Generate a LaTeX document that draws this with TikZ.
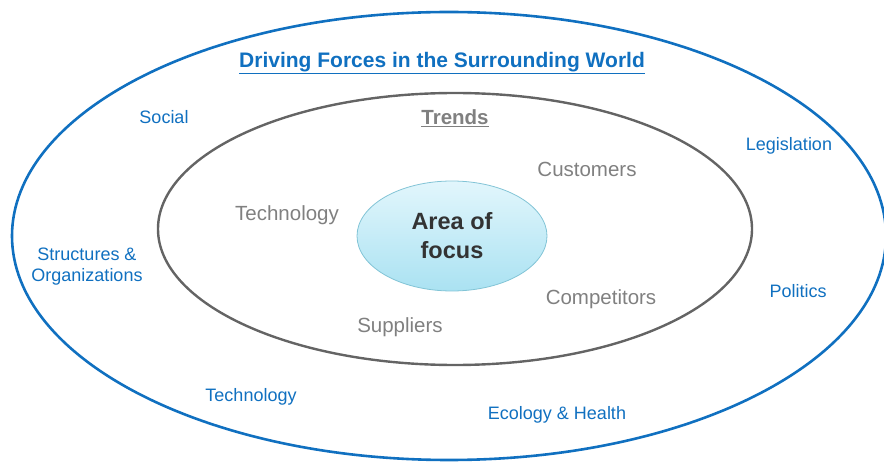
\documentclass[tikz,border=0pt]{standalone}
\usepackage{fontspec}
\setmainfont{Liberation Sans}
\usetikzlibrary{shapes.geometric}
\definecolor{forceblue}{RGB}{16,112,192}
\definecolor{trendgray}{RGB}{128,128,128}
\definecolor{ringgray}{RGB}{100,100,100}
\definecolor{focustop}{RGB}{226,246,252}
\definecolor{focusbot}{RGB}{170,226,242}
\definecolor{focusline}{RGB}{130,196,214}
\begin{document}
\begin{tikzpicture}[x=1pt,y=1pt,
  force/.style={text=forceblue,font=\fontsize{18}{21}\selectfont,align=center},
  trend/.style={text=trendgray,font=\fontsize{20.5}{24}\selectfont}]
\useasboundingbox (0,0) rectangle (884,461);
\draw[forceblue,line width=2.6pt] (449,225) ellipse (437 and 224);
\draw[ringgray,line width=2.4pt] (455,232) ellipse (297 and 136);
\node (focus) at (452,225) [ellipse,minimum width=190,minimum height=110,
  draw=focusline,line width=0.8pt,top color=focustop,bottom color=focusbot,
  align=center,text=black!80,font=\bfseries\fontsize{23.5}{29}\selectfont] {Area of\\focus};
\node (title) at (442,398) [text=forceblue,font=\bfseries\fontsize{21}{25}\selectfont] {\underline{Driving Forces in the Surrounding World}};
\node (trends) at (455,343) [text=trendgray,font=\bfseries\fontsize{20.5}{24}\selectfont] {\underline{Trends}};
\node (social) at (164,344) [force] {Social};
\node (legislation) at (789,315) [force] {Legislation};
\node (structures) at (87,194) [force] {Structures \&\\Organizations};
\node (politics) at (798,170) [force] {Politics};
\node (technology) at (251,64) [force] {Technology};
\node (ecology) at (557,46) [force] {Ecology \& Health};
\node (customers) at (587,292) [trend] {Customers};
\node (tech) at (287,246) [trend] {Technology};
\node (competitors) at (601,162) [trend] {Competitors};
\node (suppliers) at (400,134) [trend] {Suppliers};
\end{tikzpicture}
\end{document}
